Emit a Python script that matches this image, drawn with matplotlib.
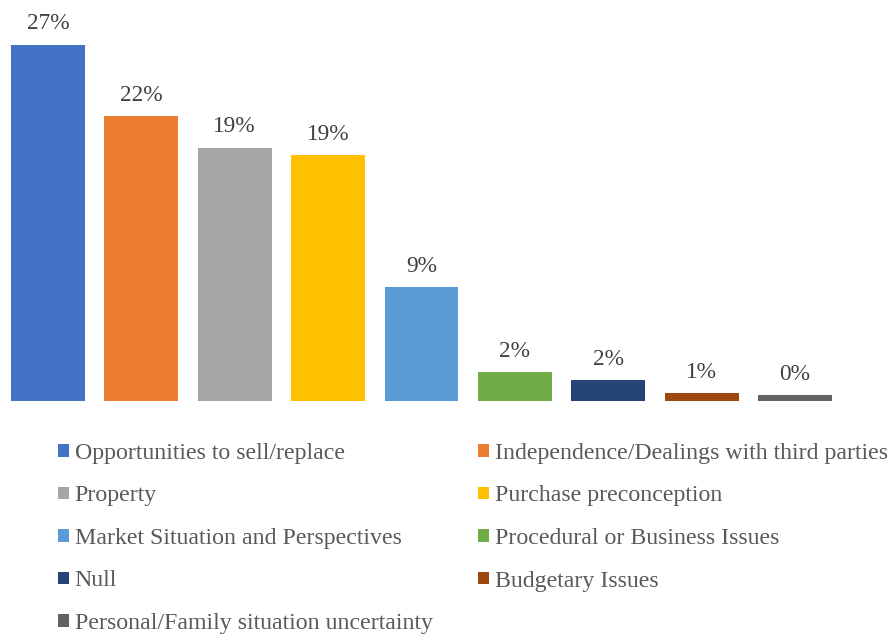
import numpy as np
import matplotlib
matplotlib.use('Agg')
import matplotlib.pyplot as plt

#Reasons and their shares (%)
reasons = ['Opportunities to sell/replace',
           'Independence/Dealings with third parties',
           'Property',
           'Purchase preconception',
           'Market Situation and Perspectives',
           'Procedural or Business Issues',
           'Null',
           'Budgetary Issues',
           'Personal/Family situation uncertainty']
shares = [27.0, 21.6, 19.2, 18.6, 8.6, 2.2, 1.6, 0.6, 0.45]
colors = ['#4472C4', '#ED7D31', '#A5A5A5', '#FFC000', '#5B9BD5',
          '#70AD47', '#264478', '#9E480E', '#636363']

plt.rcParams['font.family'] = ['Liberation Serif', 'DejaVu Serif']

fig = plt.figure(figsize=(8.9, 6.35), dpi=100)
ax = fig.add_axes([1.3/890, 234/635, 840.4/890, 396/635])

x = np.arange(len(shares))
bars = ax.bar(x, shares, width=0.79, color=colors, label=reasons)

#value labels above each bar
for xi, v in zip(x, shares):
    ax.annotate('{:.0f}%'.format(v), (xi, v),
                textcoords='offset points', xytext=(0, 11),
                ha='center', va='baseline', fontsize=16.8, color='#404040')

ax.set_xlim(-0.5, len(shares) - 0.5)
ax.set_ylim(0, 30)
ax.axis('off')

#legend laid out row by row in two columns
order = [0, 2, 4, 6, 8, 1, 3, 5, 7]
handles = [bars.patches[i] for i in order]
labels = [reasons[i] for i in order]
fig.legend(handles, labels, ncol=2, loc='upper left',
           bbox_to_anchor=(58/890, 1 - 443/635), frameon=False,
           fontsize=17.2, labelcolor='#595959',
           handlelength=0.45, handleheight=0.45, handletextpad=0.25,
           columnspacing=1.9, labelspacing=0.9, borderaxespad=0, borderpad=0)

plt.savefig('out.png', dpi=100)
